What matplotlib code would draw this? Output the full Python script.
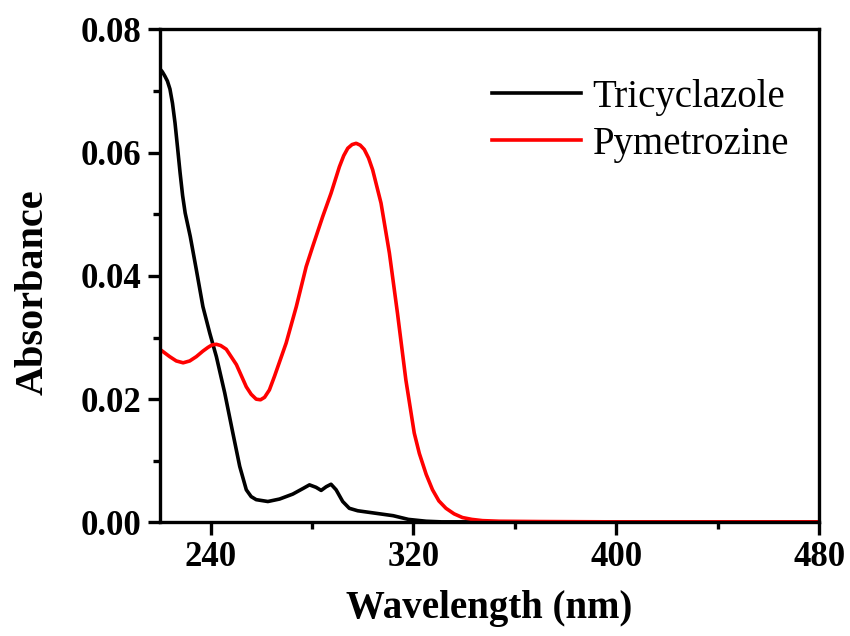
import matplotlib
matplotlib.use("Agg")
import matplotlib.pyplot as plt
from matplotlib.ticker import MultipleLocator

# Data
tri_wl = [220, 221, 222, 223, 224, 225, 226, 227, 228, 229, 230, 232, 234.4,
          237, 239.7, 242.3, 245.6, 248.8, 251.5, 254.1, 256, 258, 262.6,
          267.2, 272.4, 276.4, 279, 281.6, 283.6, 285.6, 287.5, 289.5, 292.1,
          294.7, 298, 305, 312, 318, 325, 331, 340, 360, 400, 440, 480]
tri_abs = [0.0736, 0.0731, 0.0724, 0.0716, 0.0703, 0.0680, 0.0648, 0.0608,
           0.0567, 0.0530, 0.0502, 0.0464, 0.0410, 0.0350, 0.0307, 0.0269,
           0.0210, 0.0145, 0.0091, 0.0053, 0.0042, 0.0037, 0.0034, 0.0038,
           0.0046, 0.0055, 0.0061, 0.0057, 0.0052, 0.0058, 0.0062, 0.0053,
           0.0034, 0.0023, 0.0019, 0.0015, 0.0011, 0.0005, 0.0002, 0.0001,
           0.0001, 0.0001, 0.0001, 0.0001, 0.0001]

pym_wl = [220, 223.9, 226.5, 229.2, 231.8, 234.4, 237, 239, 240.6, 242.3,
          244, 246.2, 250.2, 254.1, 256, 258, 259.7, 261.3, 263.2, 265.2,
          269.8, 273.8, 277.7, 280.3, 284.2, 287.5, 290.8, 292.5, 294.1,
          295.8, 297.4, 299, 300.6, 302.3, 303.9, 307.2, 310.5, 313.7, 317,
          320.3, 322.3, 325, 327.5, 330, 332.8, 336, 339.3, 343, 347.2, 353.8,
          370, 400, 440, 480]
pym_abs = [0.0281, 0.0269, 0.0262, 0.0259, 0.0262, 0.0269, 0.0278, 0.0284,
           0.0288, 0.0289, 0.0287, 0.0281, 0.0256, 0.0220, 0.0208, 0.0200,
           0.0199, 0.0203, 0.0215, 0.0237, 0.0291, 0.0350, 0.0415, 0.0448,
           0.0496, 0.0534, 0.0577, 0.0595, 0.0607, 0.0613, 0.0615, 0.0612,
           0.0605, 0.0591, 0.0572, 0.0518, 0.0437, 0.0339, 0.0231, 0.0145,
           0.0112, 0.0078, 0.0053, 0.0035, 0.0023, 0.0014, 0.0008, 0.0005,
           0.0003, 0.0002, 0.00015, 0.0001, 0.0001, 0.0001]

series_names = ["Tricyclazole", "Pymetrozine"]
x_ticks = [240, 320, 400, 480]
y_ticks = [0.00, 0.02, 0.04, 0.06, 0.08]

plt.rcParams['font.family'] = ['Liberation Serif', 'DejaVu Serif']

fig = plt.figure(figsize=(8.5, 6.36), dpi=100)
ax = fig.add_axes([0.188, 0.1785, 0.776, 0.7755])

ax.plot(tri_wl, tri_abs, color='black', lw=2.6, label=series_names[0],
        solid_joinstyle='round')
ax.plot(pym_wl, pym_abs, color='#ff0000', lw=2.6, label=series_names[1],
        solid_joinstyle='round')

ax.set_xlim(220, 480)
ax.set_ylim(0, 0.08)
ax.set_xticks(x_ticks)
ax.set_yticks(y_ticks)
ax.set_yticklabels([f"{v:.2f}" for v in y_ticks])
ax.xaxis.set_minor_locator(MultipleLocator(40))
ax.yaxis.set_minor_locator(MultipleLocator(0.01))

for s in ax.spines.values():
    s.set_linewidth(2.4)
ax.tick_params(which='major', direction='out', length=9, width=2.4,
               labelsize=25, pad=4)
ax.tick_params(which='minor', direction='out', length=5, width=2.4)
for lab in ax.get_xticklabels() + ax.get_yticklabels():
    lab.set_fontweight('bold')

ax.set_xlabel("Wavelength (nm)", fontsize=28, fontweight='bold', labelpad=12)
ax.set_ylabel("Absorbance", fontsize=29, fontweight='bold')
ax.yaxis.set_label_coords(-0.164, 0.467)

leg = ax.legend(loc='upper left', bbox_to_anchor=(0.503, 0.90), frameon=False,
                fontsize=28, handlelength=2.3, handletextpad=0.3,
                borderpad=0, borderaxespad=0, labelspacing=0.27)
for l in leg.get_lines():
    l.set_linewidth(2.6)

fig.savefig("out.png", dpi=100)
